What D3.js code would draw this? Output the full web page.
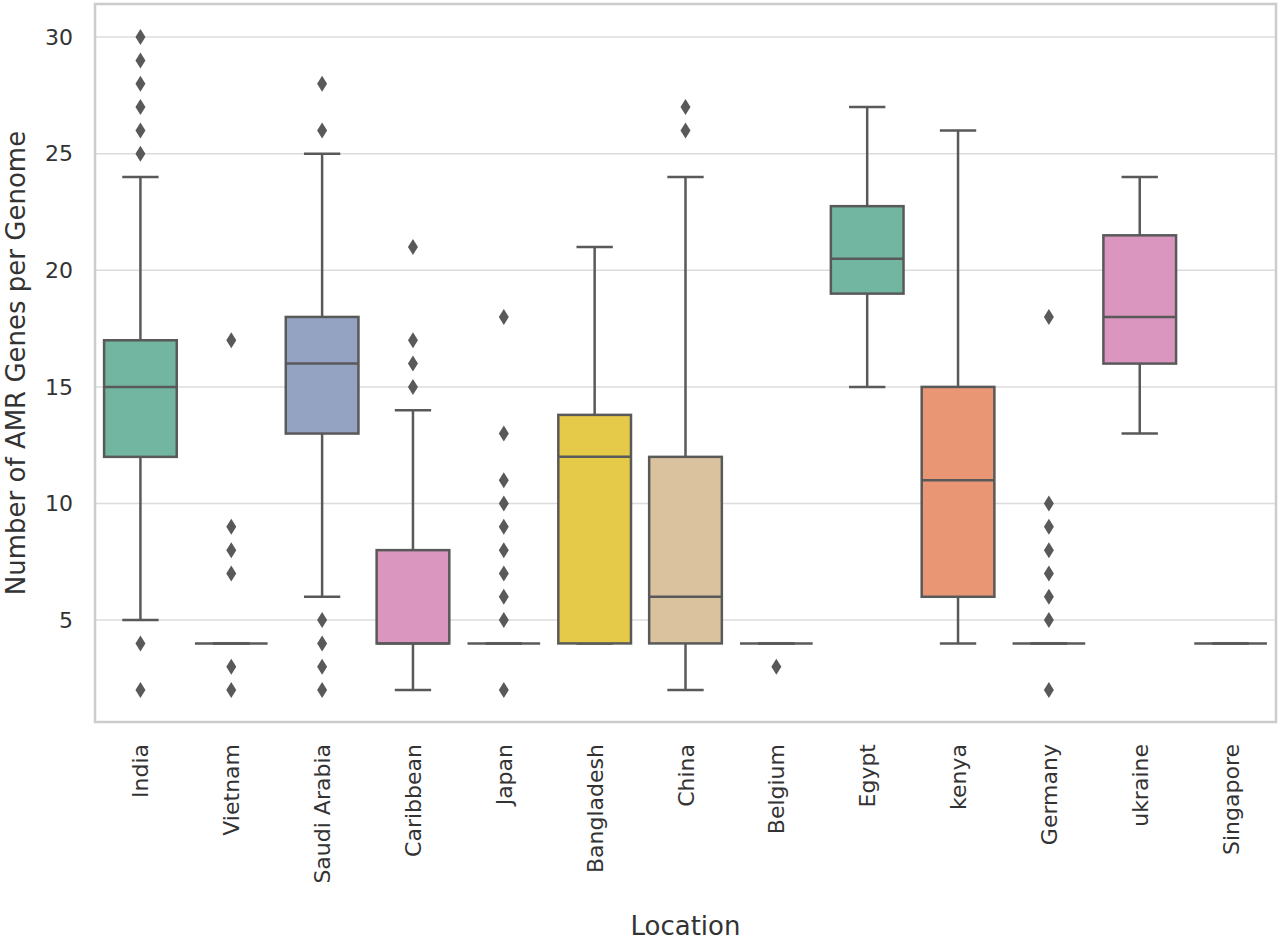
<!DOCTYPE html>
<html><head><meta charset="utf-8">
<script src="https://cdn.jsdelivr.net/npm/d3@7"></script>
<style>body{margin:0;background:#fff;font-family:"DejaVu Sans",sans-serif;}</style>
</head><body><div id="chart"></div>
<script>
// boxplot stats
const locations = ["India","Vietnam","Saudi Arabia","Caribbean","Japan","Bangladesh","China","Belgium","Egypt","kenya","Germany","ukraine","Singapore"];
const whiskLo = [5,4,6,2,4,4,2,4,15,4,4,13,4];
const q1      = [12,4,13,4,4,4,4,4,19,6,4,16,4];
const median  = [15,4,16,4,4,12,6,4,20.5,11,4,18,4];
const q3      = [17,4,18,8,4,13.8,12,4,22.75,15,4,21.5,4];
const whiskHi = [24,4,25,14,4,21,24,4,27,26,4,24,4];
const outliers = [
  [2,4,25,26,27,28,29,30],
  [2,3,7,8,9,17],
  [2,3,4,5,26,28],
  [15,16,17,21],
  [2,5,6,7,8,9,10,11,13,18],
  [],
  [26,27],
  [3],
  [],
  [],
  [2,5,6,7,8,9,10,18],
  [],
  []
];
const yTicks = [5,10,15,20,25,30];
const palette = ["#66c2a5","#fc8d62","#8da0cb","#e78ac3","#a6d854","#ffd92f","#e5c494","#b3b3b3"];

const W = 1280, H = 940;
const m = {left:95, right:4, top:4, bottom:218};
const svg = d3.select("#chart").append("svg").attr("width", W).attr("height", H);

const x = d3.scaleBand().domain(locations).range([m.left, W - m.right]).paddingInner(0).paddingOuter(0);
const y = d3.scaleLinear().domain([0.63, 31.42]).range([H - m.bottom, m.top]);
const lineCol = "#595959";

// grid
svg.append("g").selectAll("line").data(yTicks).join("line")
  .attr("x1", m.left).attr("x2", W - m.right)
  .attr("y1", d => y(d)).attr("y2", d => y(d))
  .attr("stroke", "#dcdcdc").attr("stroke-width", 1.5);

const bw = x.bandwidth() * 0.8;
const g = svg.append("g");
locations.forEach((loc, i) => {
  const cx = x(loc) + x.bandwidth() / 2;
  const c = d3.hsl(palette[i % palette.length]); c.s *= 0.75;
  const gg = g.append("g");
  // whiskers
  gg.append("line").attr("x1", cx).attr("x2", cx).attr("y1", y(whiskLo[i])).attr("y2", y(q1[i]))
    .attr("stroke", lineCol).attr("stroke-width", 2.5);
  gg.append("line").attr("x1", cx).attr("x2", cx).attr("y1", y(q3[i])).attr("y2", y(whiskHi[i]))
    .attr("stroke", lineCol).attr("stroke-width", 2.5);
  [whiskLo[i], whiskHi[i]].forEach(v => gg.append("line")
    .attr("x1", cx - bw / 4).attr("x2", cx + bw / 4).attr("y1", y(v)).attr("y2", y(v))
    .attr("stroke", lineCol).attr("stroke-width", 2.5));
  // box
  gg.append("rect").attr("x", cx - bw / 2).attr("width", bw)
    .attr("y", y(q3[i])).attr("height", Math.max(0, y(q1[i]) - y(q3[i])))
    .attr("fill", c.formatHex()).attr("stroke", lineCol).attr("stroke-width", 2.5);
  gg.append("line").attr("x1", cx - bw / 2).attr("x2", cx + bw / 2)
    .attr("y1", y(median[i])).attr("y2", y(median[i]))
    .attr("stroke", lineCol).attr("stroke-width", 2.5);
  // outliers
  gg.selectAll("path").data(outliers[i]).join("path")
    .attr("d", "M0,-8L5,0L0,8L-5,0Z")
    .attr("transform", d => `translate(${cx},${y(d)})`)
    .attr("fill", lineCol);
});

// frame
svg.append("rect").attr("x", m.left).attr("y", m.top)
  .attr("width", W - m.right - m.left).attr("height", H - m.bottom - m.top)
  .attr("fill", "none").attr("stroke", "#cccccc").attr("stroke-width", 2.5);

// y tick labels
svg.append("g").selectAll("text").data(yTicks).join("text")
  .attr("x", m.left - 22).attr("y", d => y(d)).attr("dy", "0.35em")
  .attr("text-anchor", "end").attr("font-size", 22).attr("fill", "#333").text(d => d);

// x tick labels
svg.append("g").selectAll("text").data(locations).join("text")
  .attr("transform", d => `translate(${x(d) + x.bandwidth() / 2 + 8},${H - m.bottom + 22}) rotate(-90)`)
  .attr("text-anchor", "end").attr("font-size", 22).attr("fill", "#333").text(d => d);

// axis titles
svg.append("text").attr("x", (m.left + W - m.right) / 2).attr("y", 935)
  .attr("text-anchor", "middle").attr("font-size", 26).attr("fill", "#333").text("Location");
svg.append("text").attr("transform", `translate(25,${(m.top + H - m.bottom) / 2}) rotate(-90)`)
  .attr("text-anchor", "middle").attr("font-size", 26).attr("fill", "#333").text("Number of AMR Genes per Genome");
</script></body></html>
